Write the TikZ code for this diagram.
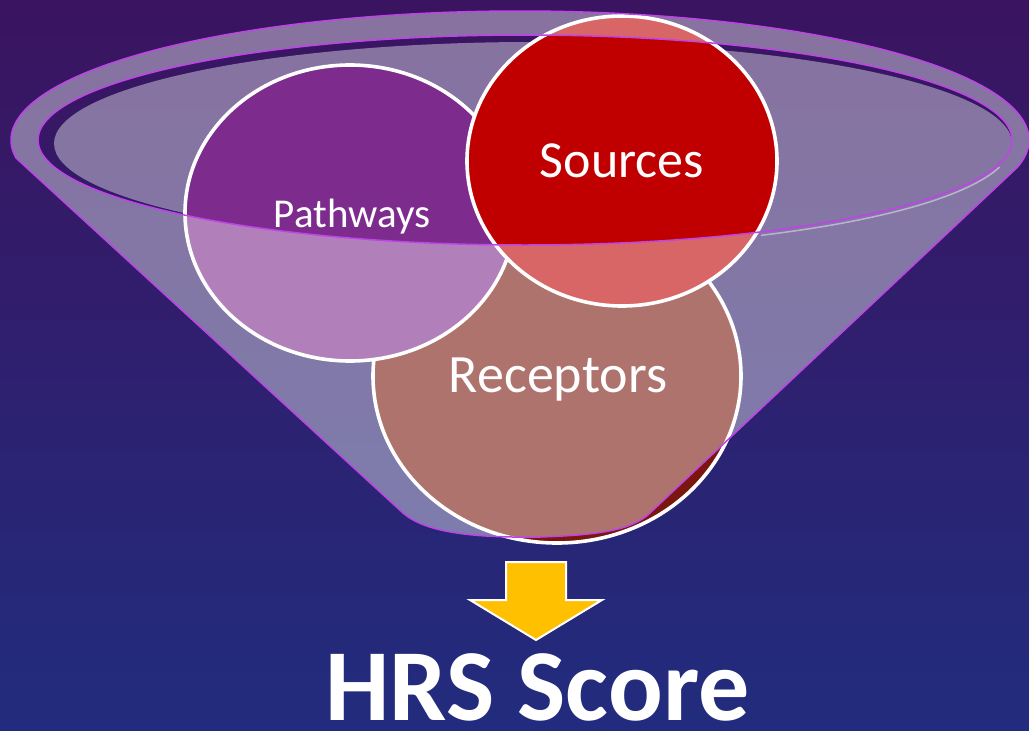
\documentclass[tikz,border=0pt]{standalone}
\usepackage{fontspec}
\setmainfont{Carlito}
\usetikzlibrary{shapes.geometric}
\definecolor{bgtop}{RGB}{58,20,96}
\definecolor{bgmid}{RGB}{42,32,112}
\definecolor{bgbot}{RGB}{34,44,126}
\definecolor{rimline}{RGB}{190,68,230}
\definecolor{pathc}{RGB}{125,44,142}
\definecolor{srcc}{RGB}{192,0,0}
\definecolor{recc}{RGB}{122,22,14}
\definecolor{arrowc}{RGB}{255,192,0}
\tikzset{
  blob/.style={ellipse, inner sep=0pt, draw=white, line width=3.6pt},
  lbl/.style={text=white, anchor=base, inner sep=0pt},
  glass/.style={fill=white, fill opacity=0.4},
  rim/.style={draw=rimline, line width=1.5pt},
}
\begin{document}
\begin{tikzpicture}[x=1pt,y=-1pt]
\useasboundingbox (0,0) rectangle (1029,731);
\shade[top color=bgtop, middle color=bgmid, bottom color=bgbot] (0,0) rectangle (1029,731);
% inner back surface of the funnel
\begin{scope}
  \clip (525,140) ellipse [x radius=487pt, y radius=105pt];
  \fill[glass] (533,143.5) ellipse [x radius=479pt, y radius=101.5pt];
\end{scope}
% circles
\node[blob, fill=recc, minimum width=368pt, minimum height=334pt] (rec) at (557,376) {};
\node[blob, fill=pathc, minimum width=330pt, minimum height=296pt] (path) at (350,213) {};
\node[blob, fill=srcc, minimum width=310pt, minimum height=290pt] (src) at (622,161) {};
% funnel body (translucent) minus the opening
\fill[glass, even odd rule] plot[domain=172:372, samples=150] ({520+509*cos(\x)},{140+129*sin(\x)})
  -- (650,513) .. controls (632,530) and (600,535) .. (540,537)
  .. controls (470,538) and (425,532) .. (403,513) -- cycle
  (525,140) ellipse [x radius=487pt, y radius=105pt];
% outlines
\draw[rim, line join=round] plot[domain=172:372, samples=150] ({520+509*cos(\x)},{140+129*sin(\x)})
  -- (650,513) .. controls (632,530) and (600,535) .. (540,537)
  .. controls (470,538) and (425,532) .. (403,513) -- cycle;
\draw[white, opacity=0.45, line width=1.5pt] plot[domain=13:61, samples=40] ({525+487*cos(\x)},{143.5+105*sin(\x)});
\draw[rim] (525,140) ellipse [x radius=487pt, y radius=105pt];
% labels
\node[lbl, font=\fontsize{41}{49}\selectfont] (tpath) at (352,227) {Pathways};
\node[lbl, font=\fontsize{52}{62}\selectfont] (tsrc) at (622,177) {Sources};
\node[lbl, font=\fontsize{54}{65}\selectfont] (trec) at (558,392) {Receptors};
% arrow
\draw[fill=arrowc, draw=white, line width=2pt, line join=miter]
  (506,562) -- (566,562) -- (566,600) -- (602,600) -- (536,640) -- (470,600) -- (506,600) -- cycle;
% result
\node[lbl, font={\fontsize{102}{120}\selectfont\bfseries}] (hrs) at (537.5,720) {HRS Score};
\end{tikzpicture}
\end{document}
